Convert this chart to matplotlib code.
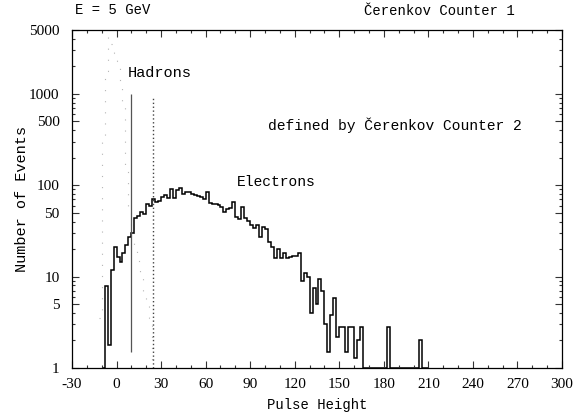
import numpy as np
import matplotlib
matplotlib.use("Agg")
import matplotlib.pyplot as plt
from matplotlib.ticker import FixedLocator, NullFormatter, LogLocator

plt.rcParams["axes.unicode_minus"] = False

# Electron sample: counts per 2-unit pulse-height bin, starting at -10
electron_start = -10
bin_width = 2
electron_counts = [
    1, 7.8, 1.8, 11.8, 21, 16.5, 14.5, 18, 22, 27,
    30, 44, 46, 51, 48, 63, 60, 70, 66, 67,
    74, 78, 72, 91, 72, 89, 93, 80, 85, 84,
    80, 78, 76, 74, 71, 85, 64, 62, 63, 61,
    58, 51, 55, 56, 66, 45, 43, 58, 44, 41,
    37, 34, 37, 27, 35, 33, 24, 21, 16, 20,
    16, 18, 16, 16.5, 17, 17, 18, 9, 11, 10,
    4, 7.5, 5, 9.5, 7, 3, 1.5, 3.8, 5.8, 2.2,
    2.8, 2.8, 1.5, 2.8, 2.8, 1.3, 2.0, 2.8, 1, 1,
    1, 1, 1, 1, 1, 1, 2.8, 1, 1, 1,
    1, 1, 1, 1, 1, 1, 1, 2.0, 1, 1,
]

# Hadron sample (dotted), 2-unit bins starting at -12
hadron_start = -12
hadron_counts = [
    3.5, 300, 1800, 4200, 3500, 2800, 2300, 1400, 800, 165,
    60, 30, 21, 15, 11, 7, 5, 3.5, 1,
]

# Single-channel hadron peaks
hadron_peak_solid = (9.7, 1.5, 1000)
hadron_peak_dotted = (24.8, 1.0, 890)

x_ticks = [-30, 0, 30, 60, 90, 120, 150, 180, 210, 240, 270, 300]
y_ticks = [1, 5, 10, 50, 100, 500, 1000, 5000]
y_tick_labels = ["1", "5", "10", "50", "100", "500", "1000", "5000"]

mono = "Liberation Mono"
serif = "Liberation Serif"

fig = plt.figure(figsize=(5.83, 4.19), dpi=100)
ax = fig.add_axes([72 / 583, 51 / 419, 490 / 583, 338 / 419])

e_edges = electron_start + bin_width * np.arange(len(electron_counts) + 1)
h_edges = hadron_start + bin_width * np.arange(len(hadron_counts) + 1)

ax.stairs(hadron_counts, h_edges, baseline=None, color="#b5b5b5",
          linewidth=0.8, linestyle=(0, (1, 9)))
ax.vlines(hadron_peak_solid[0], hadron_peak_solid[1], hadron_peak_solid[2],
          color="#555555", linewidth=0.9)
ax.vlines(hadron_peak_dotted[0], hadron_peak_dotted[1], hadron_peak_dotted[2],
          color="#444444", linewidth=1.0, linestyle=(0, (1, 1.8)))
ax.stairs(electron_counts, e_edges, baseline=None, color="black",
          linewidth=1.1)

ax.set_yscale("log")
ax.set_xlim(-30, 300)
ax.set_ylim(1, 5000)

ax.xaxis.set_major_locator(FixedLocator(x_ticks))
ax.xaxis.set_minor_locator(FixedLocator(np.arange(-30, 301, 10)))
ax.yaxis.set_major_locator(FixedLocator(y_ticks))
ax.set_yticklabels(y_tick_labels)
ax.yaxis.set_minor_locator(LogLocator(base=10, subs=np.arange(2, 10)))
ax.yaxis.set_minor_formatter(NullFormatter())

ax.tick_params(which="both", direction="in", top=True, right=True,
               width=0.8, color="#333333")
ax.tick_params(which="major", length=5)
ax.tick_params(which="minor", length=2.5)
ax.tick_params(axis="x", pad=7)
ax.tick_params(axis="y", pad=9)
for lab in ax.get_xticklabels() + ax.get_yticklabels():
    lab.set_fontfamily(serif)
    lab.set_fontsize(11)

for s in ax.spines.values():
    s.set_linewidth(0.9)

ax.set_xlabel("Pulse Height", fontfamily=mono, fontsize=10, labelpad=5)
ax.set_ylabel("Number of Events", fontfamily=mono, fontsize=11, labelpad=0)

fig.text(75 / 583, 1 - 10 / 419, "E = 5 GeV", fontfamily=mono, fontsize=10,
         ha="left", va="center")
fig.text(515 / 583, 1 - 11 / 419, "Čerenkov Counter 1", fontfamily=mono,
         fontsize=10, ha="right", va="center")

ax.text(7.7, 1690, "Hadrons", fontfamily=mono, fontsize=11, ha="left",
        va="center")
ax.text(102, 456, "defined by Čerenkov Counter 2", fontfamily=mono,
        fontsize=10.5, ha="left", va="center")
ax.text(81, 108, "Electrons", fontfamily=mono, fontsize=10.5, ha="left",
        va="center")

fig.savefig("out.png", dpi=100)
